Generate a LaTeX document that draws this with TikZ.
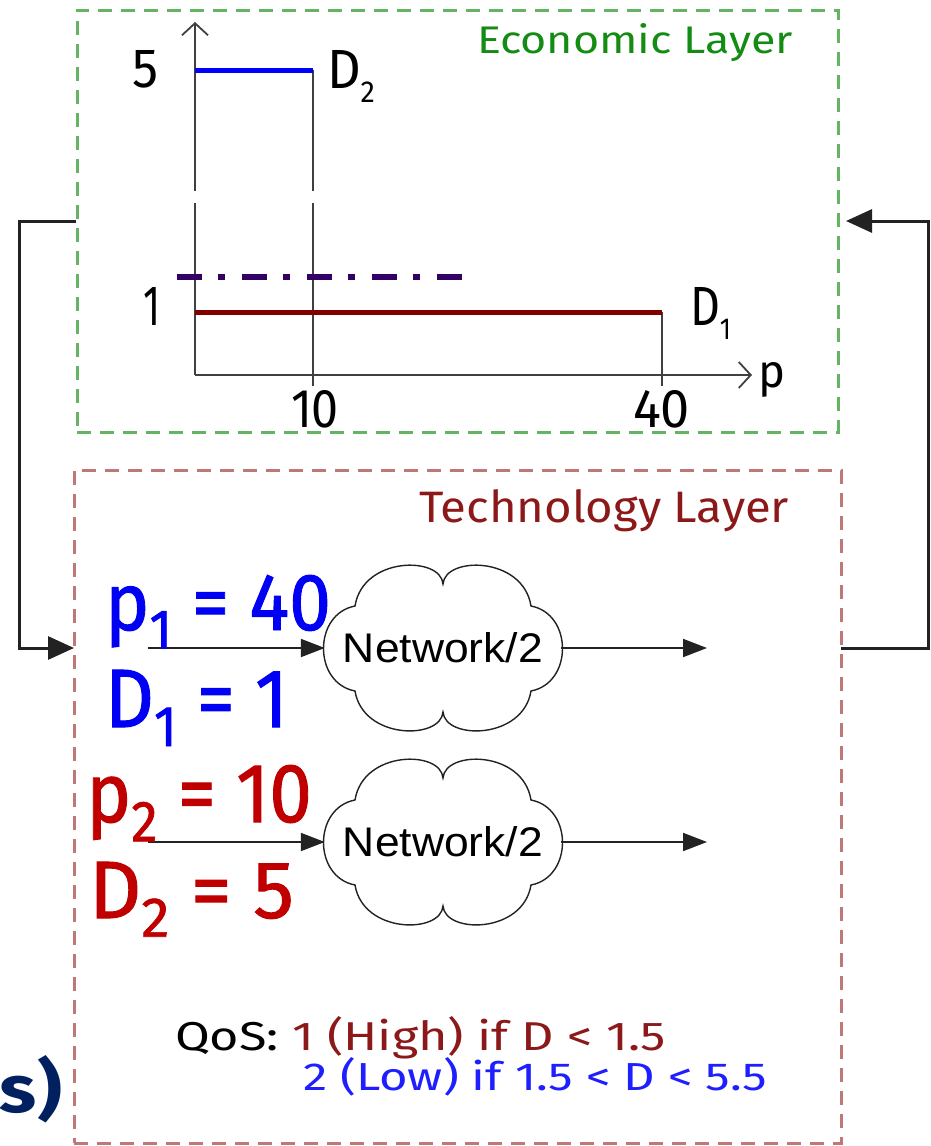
\documentclass[tikz,border=0pt]{standalone}
\usepackage{fontspec}
\usepackage{graphicx}
\setmainfont{Fira Sans}
\newfontfamily\arialfont{Liberation Sans}
\newfontfamily\heavyfont{Fira Sans}[FakeBold=1.2]
\usetikzlibrary{arrows.meta}
\definecolor{econbox}{RGB}{100,180,100}
\definecolor{econtxt}{RGB}{20,140,20}
\definecolor{techbox}{RGB}{190,120,120}
\definecolor{techtxt}{RGB}{140,25,25}
\definecolor{dred}{RGB}{128,0,0}
\definecolor{lblue}{RGB}{0,0,255}
\definecolor{purp}{RGB}{51,0,102}
\definecolor{pblue}{RGB}{0,0,245}
\definecolor{pred}{RGB}{192,0,0}
\definecolor{qblue}{RGB}{30,30,255}
\definecolor{navy}{RGB}{0,32,96}
\definecolor{ink}{RGB}{34,34,34}
\definecolor{axisc}{RGB}{64,64,64}
\newcommand{\fitto}[3]{\resizebox{#1pt}{#2pt}{#3}}
\newcommand{\sub}[3]{\raisebox{#2}{\scalebox{#1}{#3}}}
\newcommand{\cloudpath}{%
  (-88,-42) .. controls (-80,-92) and (-2,-92) .. (0,-64)
  .. controls (2,-92) and (80,-92) .. (88,-42)
  .. controls (130,-34) and (130,35) .. (88,43)
  .. controls (80,92) and (2,92) .. (0,64)
  .. controls (-2,92) and (-80,92) .. (-88,43)
  .. controls (-130,35) and (-130,-34) .. cycle}
\begin{document}
\begin{tikzpicture}[x=1pt,y=-1pt,
  lbl/.style={inner sep=0pt,outer sep=0pt,anchor=base west},
  layerbox/.style={draw,line width=3pt,dash pattern=on 14pt off 9pt,inner sep=0pt},
  axisline/.style={draw=axisc,line width=1.8pt},
  openarrow/.style={-{Straight Barb[length=12pt,width=26pt,line width=1.8pt]}},
  fb/.style={draw=ink,line width=3pt},
  fbarrow/.style={-{Triangle[length=26pt,width=23pt]}},
  flow/.style={draw=ink,line width=2pt,-{Triangle[length=24pt,width=18pt]}},
  netnode/.style={minimum width=236pt,minimum height=168pt,inner sep=0pt},
  cloudline/.style={draw=ink,line width=1.4pt}
]
\useasboundingbox (0,0) rectangle (930,1146);

% layer boxes
\node[layerbox,draw=econbox,minimum width=761pt,minimum height=422pt] (econ) at (457.5,221) {};
\node[layerbox,draw=techbox,minimum width=767pt,minimum height=673pt] (tech) at (457.5,806.5) {};

\node[lbl,text=econtxt] (econlbl) at (477,53) {\fitto{316}{30}{Economic Layer}};
\node[lbl,text=techtxt] (techlbl) at (419,522) {\fitto{370}{33}{Technology Layer}};

% chart
\draw[axisline] (195,375) -- (195,203);
\draw[axisline,openarrow] (195,191) -- (195,22);
\draw[axisline,openarrow] (195,375) -- (752,375);
\draw[axisline] (313,70) -- (313,191);
\draw[axisline] (313,203) -- (313,386);
\draw[axisline] (662,312) -- (662,386);
\draw[line width=5pt,lblue] (195,70) -- (313,70);
\draw[line width=5pt,dred] (195,312) -- (662,312);
\draw[line width=6pt,purp,dash pattern=on 25pt off 16pt on 7pt off 17pt] (177,277) -- (466,277);

\node[lbl] (y5) at (132,87) {\fitto{26}{37}{5}};
\node[lbl] (y1) at (143,325) {\fitto{17}{38}{1}};
\node[lbl] (d2lbl) at (327,88) {\fitto{48}{38}{D\sub{0.55}{-0.26em}{2}}};
\node[lbl] (d1lbl) at (690,325) {\fitto{41}{38}{D\sub{0.55}{-0.26em}{1}}};
\node[lbl] (x10) at (291,427) {\fitto{48}{37}{10}};
\node[lbl] (x40) at (633,427) {\fitto{57}{37}{40}};
\node[lbl] (plbl) at (758,387) {\fitto{27}{25}{p}};

% networks
\node[netnode] (net1) at (443,648) {\fitto{200}{30}{\arialfont Network/2}};
\node[netnode] (net2) at (443,842) {\fitto{200}{30}{\arialfont Network/2}};
\begin{scope}[shift={(net1.center)}]
  \draw[cloudline] \cloudpath;
\end{scope}
\begin{scope}[shift={(net2.center)}]
  \draw[cloudline] \cloudpath;
\end{scope}
\coordinate (in1) at (148,648);
\coordinate (out1) at (707,648);
\coordinate (in2) at (148,842);
\coordinate (out2) at (707,842);
\draw[flow] (in1) -- (net1.west);
\draw[flow] (net1.east) -- (out1);
\draw[flow] (in2) -- (net2.west);
\draw[flow] (net2.east) -- (out2);

\node[lbl,text=pblue] (p1) at (105,630) {\fitto{226}{55}{\heavyfont p\sub{0.69}{-0.23em}{1} = 40}};
\node[lbl,text=pblue] (d1) at (105,727) {\fitto{183}{57}{\heavyfont D\sub{0.69}{-0.23em}{1} = 1}};
\node[lbl,text=pred] (p2) at (86,822) {\fitto{226}{57}{\heavyfont p\sub{0.69}{-0.23em}{2} = 10}};
\node[lbl,text=pred] (d2) at (89,918) {\fitto{205}{56}{\heavyfont D\sub{0.69}{-0.23em}{2} = 5}};

% feedback
\coordinate (fbin) at (74,648);
\coordinate (fbout) at (841,648);
\coordinate (fbtip) at (846,221);
\draw[fb,fbarrow] (econ.west) -- (19,221) |- (fbin);
\draw[fb,fbarrow] (fbout) -- (928,648) |- (fbtip);

% QoS
\node[lbl] (qos1) at (175,1050) {\fitto{491}{34}{QoS: \color{techtxt}1 (High) if D < 1.5}};
\node[lbl,text=qblue] (qos2) at (303,1090) {\fitto{464}{33}{2 (Low) if 1.5 < D < 5.5}};

\node[lbl,text=navy] (sparen) at (0,1112) {\fitto{62}{57}{\bfseries s)}};
\end{tikzpicture}
\end{document}
